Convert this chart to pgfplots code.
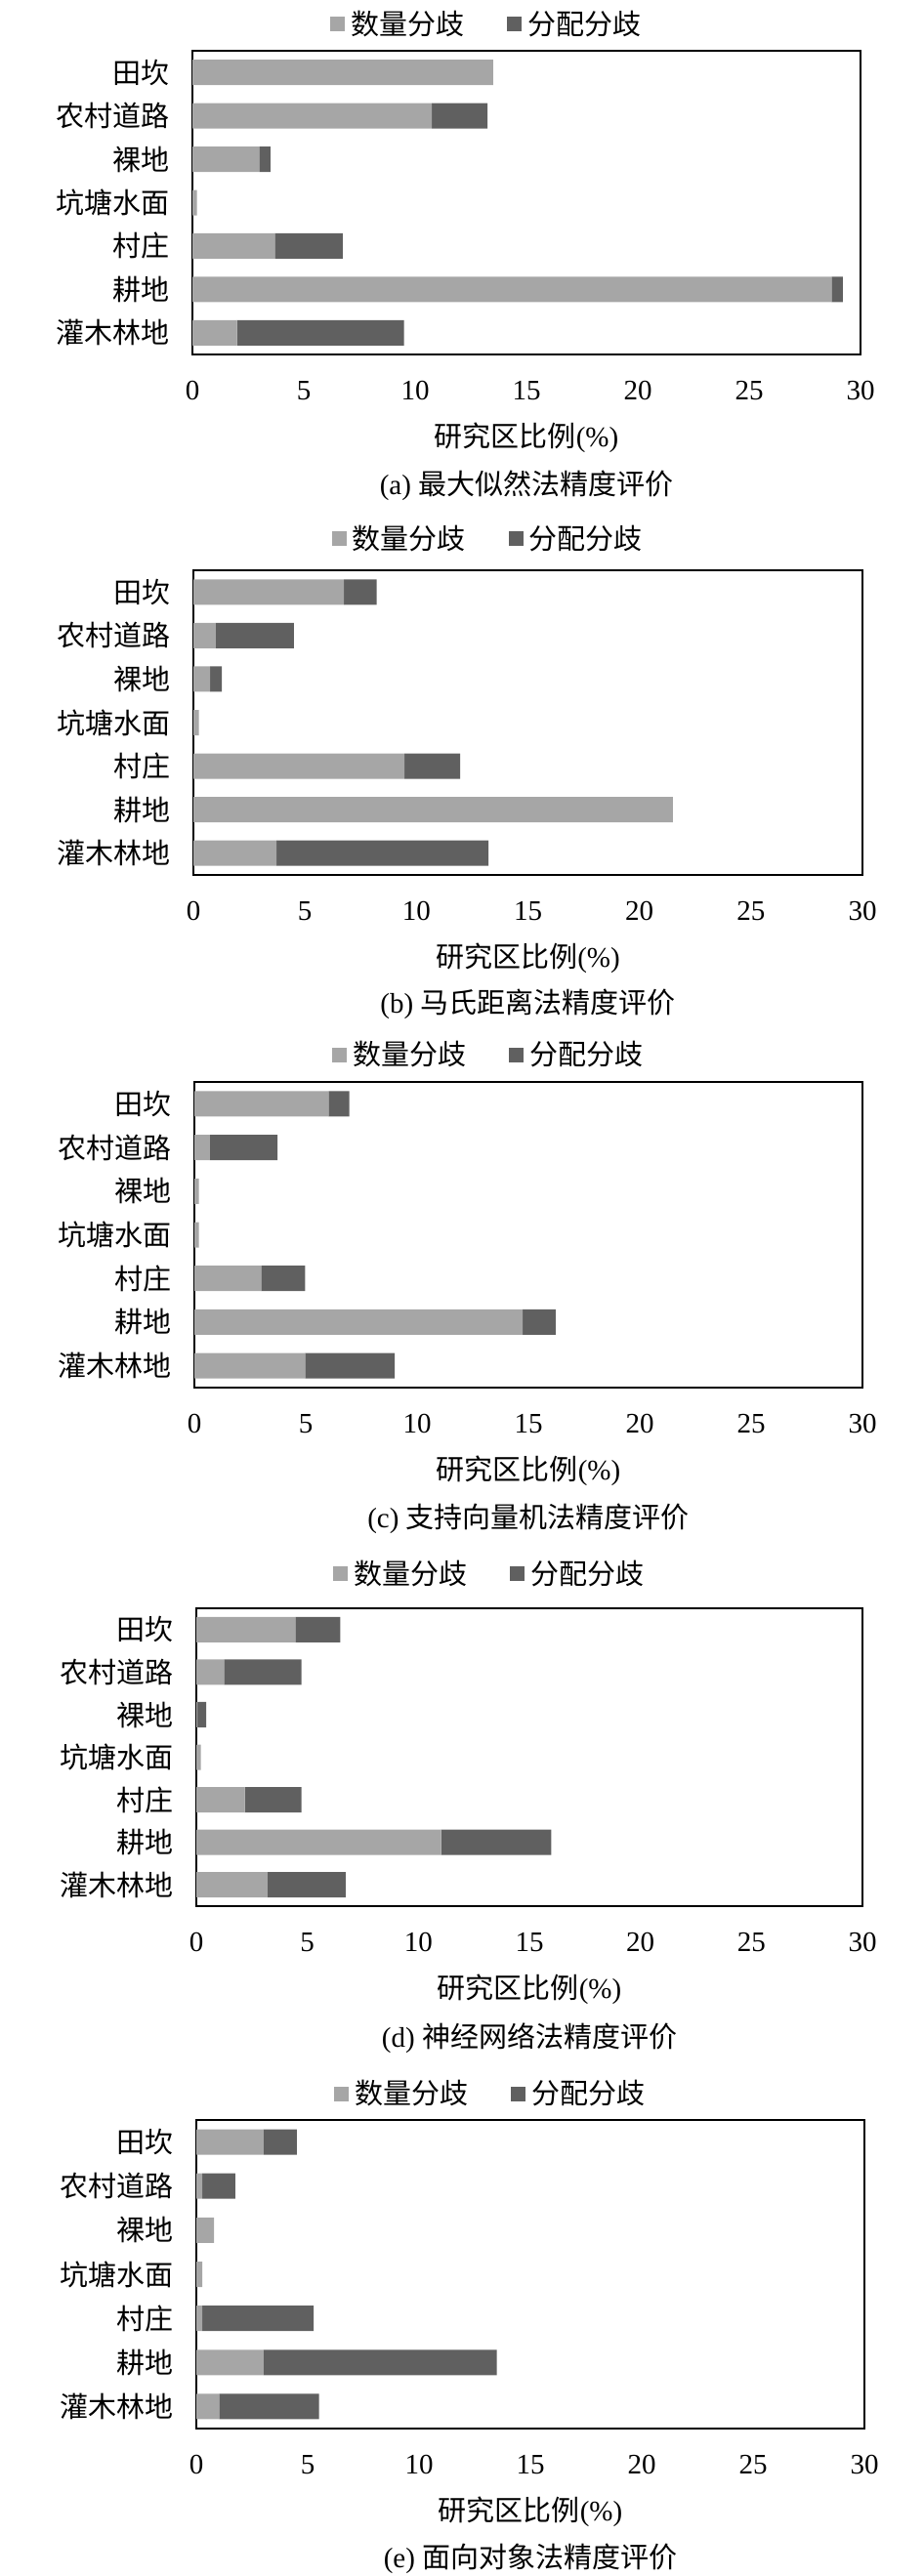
\documentclass[border=0pt]{standalone}
\usepackage{fontspec}
\setmainfont{Liberation Serif}
\newfontfamily\cjk{Noto Sans CJK SC}
\usepackage{pgfplots}
\pgfplotsset{compat=1.18}
\definecolor{lightg}{HTML}{A6A6A6}
\definecolor{darkg}{HTML}{606060}
\newcommand\fs{\fontsize{14.5}{17}\selectfont}
\pgfplotsset{
  panel/.style={
    xbar stacked, scale only axis, anchor=north west,
    xmin=0, xmax=30, ymin=-0.5, ymax=6.5, y dir=reverse,
    xtick={0,5,...,30}, ytick={0,...,6},
    yticklabels={田坎,农村道路,裸地,坑塘水面,村庄,耕地,灌木林地},
    yticklabel style={font=\cjk\fs, anchor=east, inner sep=0pt, xshift=-11.5pt},
    xticklabel style={font=\fs, anchor=north, inner sep=0pt, yshift=-13.5pt},
    /pgf/number format/assume math mode=true,
    major tick length=0pt,
    axis line style={line width=1pt, black},
    bar width=13pt,
    clip=false,
    legend columns=2,
    legend style={draw=none, fill=none, anchor=center, font=\cjk\fs,
      /tikz/every odd column/.append style={column sep=1pt},
      /tikz/every even column/.append style={column sep=20pt}},
    legend image code/.code={\fill[##1] (0pt,-3.75pt) rectangle (7.5pt,3.75pt);},
    xlabel={{\cjk 研究区比例}(\%)},
    xlabel style={font=\fs, at={(axis description cs:0.5,0)}, anchor=center, yshift=-42.5pt},
  },
  lightbar/.style={fill=lightg, draw=none},
  darkbar/.style={fill=darkg, draw=none},
}
\begin{document}
\begin{tikzpicture}
\useasboundingbox (0,0) rectangle (473pt,-1319pt);
% (a)
\begin{axis}[panel, at={(98.5pt,-26pt)}, width=342pt, height=155.5pt,
  legend style={at={(0.442,1.087)}}]
\addplot[lightbar] coordinates {(13.5,0) (10.75,1) (3.0,2) (0.2,3) (3.7,4) (28.7,5) (2.0,6)};
\addplot[darkbar] coordinates {(0,0) (2.5,1) (0.5,2) (0,3) (3.05,4) (0.5,5) (7.5,6)};
\legend{数量分歧,分配分歧}
\node[font=\fs] at (rel axis cs:0.5,0) [yshift=-67pt] {(a) {\cjk 最大似然法精度评价}};
\end{axis}
% (b)
\begin{axis}[panel, at={(99pt,-292pt)}, width=342.5pt, height=156pt,
  legend style={at={(0.442,1.103)}}]
\addplot[lightbar] coordinates {(6.75,0) (1.0,1) (0.75,2) (0.25,3) (9.46,4) (21.5,5) (3.73,6)};
\addplot[darkbar] coordinates {(1.47,0) (3.5,1) (0.52,2) (0,3) (2.5,4) (0,5) (9.5,6)};
\legend{数量分歧,分配分歧}
\node[font=\fs] at (rel axis cs:0.5,0) [yshift=-66pt] {(b) {\cjk 马氏距离法精度评价}};
\end{axis}
% (c)
\begin{axis}[panel, at={(99.5pt,-554pt)}, width=342pt, height=156.5pt,
  legend style={at={(0.442,1.089)}}]
\addplot[lightbar] coordinates {(6.03,0) (0.7,1) (0.2,2) (0.2,3) (3.0,4) (14.74,5) (4.97,6)};
\addplot[darkbar] coordinates {(0.93,0) (3.03,1) (0,2) (0,3) (1.97,4) (1.48,5) (4.03,6)};
\legend{数量分歧,分配分歧}
\node[font=\fs] at (rel axis cs:0.5,0) [yshift=-67pt] {(c) {\cjk 支持向量机法精度评价}};
\end{axis}
% (d)
\begin{axis}[panel, at={(100.5pt,-823.5pt)}, width=341pt, height=152.5pt,
  legend style={at={(0.442,1.115)}}]
\addplot[lightbar] coordinates {(4.46,0) (1.25,1) (0.05,2) (0.2,3) (2.18,4) (11.02,5) (3.21,6)};
\addplot[darkbar] coordinates {(2.02,0) (3.48,1) (0.4,2) (0,3) (2.55,4) (4.96,5) (3.51,6)};
\legend{数量分歧,分配分歧}
\node[font=\fs] at (rel axis cs:0.5,0) [yshift=-67.5pt] {(d) {\cjk 神经网络法精度评价}};
\end{axis}
% (e)
\begin{axis}[panel, at={(100.5pt,-1085.5pt)}, width=342pt, height=158pt,
  legend style={at={(0.442,1.085)}}]
\addplot[lightbar] coordinates {(3.02,0) (0.27,1) (0.8,2) (0.27,3) (0.27,4) (3.02,5) (1.03,6)};
\addplot[darkbar] coordinates {(1.49,0) (1.48,1) (0,2) (0,3) (5.0,4) (10.47,5) (4.48,6)};
\legend{数量分歧,分配分歧}
\node[font=\fs] at (rel axis cs:0.5,0) [yshift=-66.5pt] {(e) {\cjk 面向对象法精度评价}};
\end{axis}
\end{tikzpicture}
\end{document}
